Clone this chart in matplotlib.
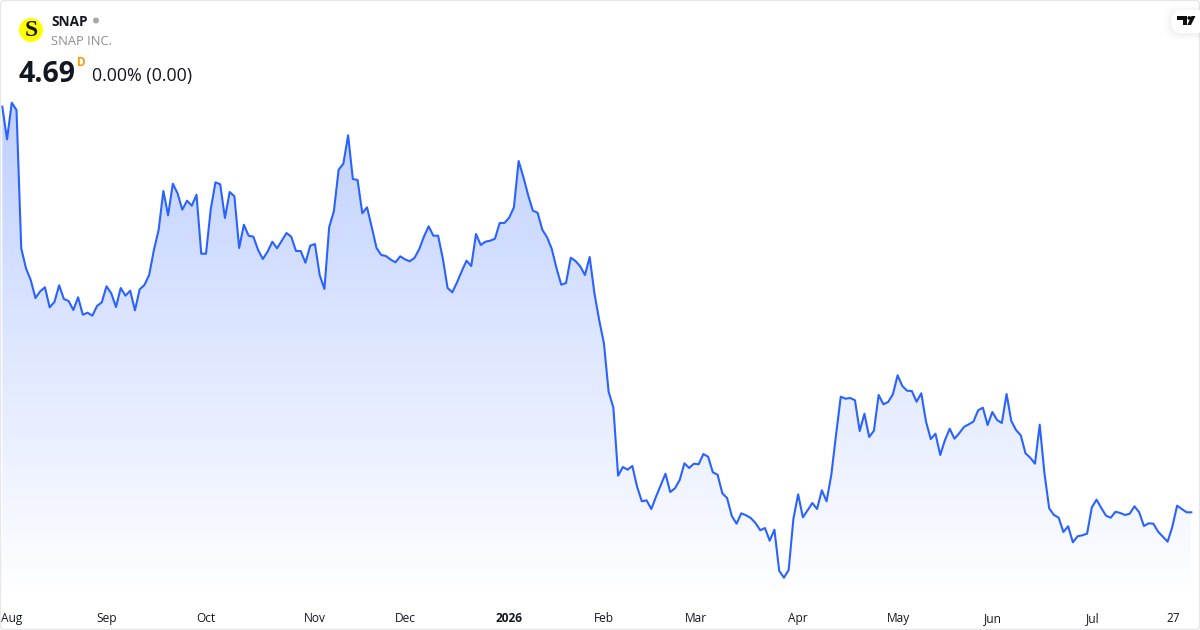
import numpy as np
import matplotlib
matplotlib.use('Agg')
import matplotlib.pyplot as plt
from matplotlib.colors import LinearSegmentedColormap
from matplotlib.patches import Circle, FancyBboxPatch, Polygon

plt.rcParams['font.family'] = ['Open Sans', 'DejaVu Sans']

# Daily closes (no price axis shown, last value 4.69)
aug_oct = [8.746, 8.42, 8.786, 8.713, 7.33, 7.13, 7.013, 6.833, 6.9, 6.94, 6.74, 6.793, 6.96,
           6.823, 6.803, 6.713, 6.84, 6.666, 6.686, 6.656, 6.753, 6.79, 6.95, 6.88, 6.743,
           6.933, 6.856, 6.906, 6.71, 6.92, 6.963, 7.063, 7.313, 7.513, 7.903, 7.66, 7.976,
           7.88, 7.716, 7.806, 7.756, 7.866, 7.276, 7.276, 7.72, 7.99, 7.97, 7.633, 7.893,
           7.85, 7.333, 7.566, 7.456, 7.446, 7.313, 7.223, 7.296, 7.396, 7.33, 7.406, 7.483,
           7.446, 7.303]
nov_jan = [7.303, 7.186, 7.356, 7.373, 7.063, 6.923, 7.54, 7.703, 8.116, 8.176, 8.46, 8.023,
           8.013, 7.68, 7.74, 7.54, 7.333, 7.263, 7.253, 7.216, 7.19, 7.25, 7.22, 7.2, 7.233,
           7.32, 7.446, 7.55, 7.456, 7.456, 7.226, 6.933, 6.89, 6.99, 7.103, 7.206, 7.153,
           7.473, 7.363, 7.396, 7.406, 7.426, 7.583, 7.583, 7.636, 7.74, 8.203, 8.043, 7.863,
           7.706, 7.686, 7.516, 7.44, 7.323, 7.13, 6.966, 6.983, 7.236, 7.203, 7.15, 7.063,
           7.243, 6.88, 6.613, 6.38]
feb_apr = [5.896, 5.736, 5.056, 5.143, 5.116, 5.153, 4.946, 4.8, 4.81, 4.723, 4.846, 4.96,
           5.076, 4.893, 4.93, 5.013, 5.18, 5.133, 5.176, 5.17, 5.273, 5.246, 5.09, 5.066,
           4.88, 4.833, 4.653, 4.576, 4.68, 4.66, 4.633, 4.583, 4.51, 4.533, 4.406, 4.516,
           4.106, 4.036, 4.113, 4.623, 4.87, 4.64, 4.71, 4.783, 4.723, 4.91, 4.8, 5.063,
           5.463, 5.846, 5.826, 5.833, 5.81, 5.503, 5.676, 5.443, 5.506, 5.863, 5.77, 5.793,
           5.87, 6.06]
may_jul = [5.953, 5.906, 5.903, 5.796, 5.88, 5.596, 5.423, 5.476, 5.263, 5.413, 5.526, 5.426,
           5.48, 5.543, 5.57, 5.596, 5.71, 5.736, 5.563, 5.693, 5.613, 5.583, 5.873, 5.603,
           5.513, 5.46, 5.28, 5.236, 5.176, 5.566, 5.08, 4.73, 4.663, 4.636, 4.493, 4.55,
           4.39, 4.45, 4.46, 4.476, 4.74, 4.816, 4.733, 4.656, 4.636, 4.696, 4.683, 4.663,
           4.676, 4.75, 4.69, 4.553, 4.58, 4.576, 4.496, 4.446, 4.396, 4.546, 4.756, 4.723,
           4.69, 4.69]
closes = np.array(aug_oct + nov_jan + feb_apr + may_jul)

tick_labels = ['Aug', 'Sep', 'Oct', 'Nov', 'Dec', '2026', 'Feb', 'Mar', 'Apr', 'May', 'Jun', 'Jul', '27']
tick_days = [2, 22, 43, 66, 85, 107, 127, 146.4, 168, 189.2, 209.2, 230.2, 247.2]

days = np.arange(len(closes))
step = (1191.3 - 2.3) / (len(closes) - 1)

fig = plt.figure(figsize=(12, 6.3), dpi=100, facecolor='white')
ax = fig.add_axes([0, 0, 1, 1])
ax.axis('off')

# area under the line, gradient clipped to the polygon
base = 3.513 + 30 * 0.01
cmap = LinearSegmentedColormap.from_list('area', [(0.161, 0.384, 1.0, 0.30), (0.161, 0.384, 1.0, 0.0)])
img = ax.imshow(np.linspace(0, 1, 256).reshape(-1, 1), cmap=cmap, aspect='auto',
                extent=(days[0], days[-1], base, closes.max()), zorder=1)
clip = Polygon(np.column_stack([np.r_[days[0], days, days[-1]], np.r_[base, closes, base]]),
               transform=ax.transData, fc='none', ec='none')
ax.add_patch(clip)
img.set_clip_path(clip)
ax.set_xlim(-2.3 / step, (1200 - 2.3) / step)
ax.set_ylim(3.513, 9.813)

ax.plot(days, closes, color='#2962ff', lw=1.5, solid_joinstyle='round', zorder=2)

for d, lab in zip(tick_days, tick_labels):
    ax.text(d, 3.513 + 11.5 * 0.01, lab, ha='center', va='center', fontsize=8.6, color='#131722',
            fontweight='bold' if lab == '2026' else 'normal', zorder=3)

# header, logo, frame in pixel coordinates
ov = fig.add_axes([0, 0, 1, 1], facecolor='none')
ov.axis('off')

ov.add_patch(FancyBboxPatch((0.5, 0.5), 1199, 629, boxstyle='round,pad=0,rounding_size=4',
                            fc='none', ec='#e6e7ea', lw=1))
ov.add_patch(Circle((31, 30), 12, fc='#ffff00', ec='none'))
ov.text(31, 30.5, 'S', ha='center', va='center', fontsize=17, fontweight='bold', color='#131722',
        family=['Liberation Serif', 'DejaVu Serif'])
ov.text(51, 21.5, 'SNAP', ha='left', va='center', fontsize=9.8, fontweight='bold', color='#131722')
ov.add_patch(Circle((96, 20.5), 3, fc='#a6a8ae', ec='none'))
ov.text(51, 41.5, 'SNAP INC.', ha='left', va='center', fontsize=9.3, color='#8b8e96')
ov.text(18.5, 74, '4.69', ha='left', va='center', fontsize=20.5, fontweight='bold', color='#131722')
ov.text(77, 62, 'D', ha='left', va='center', fontsize=8.4, fontweight='bold', color='#ff9800')
ov.text(92, 76, '0.00% (0.00)', ha='left', va='center', fontsize=12.9, color='#131722')

# TradingView badge
for off, a in [(6, 0.008), (4.5, 0.010), (3, 0.012), (1.5, 0.014)]:
    ov.add_patch(FancyBboxPatch((1171 - off, 10 - off + 1), 40 + off, 23 + off * 2,
                                boxstyle='round,pad=0,rounding_size=11', fc='black', ec='none',
                                alpha=a, zorder=4))
ov.add_patch(FancyBboxPatch((1171, 10), 40, 23, boxstyle='round,pad=0,rounding_size=11',
                            fc='white', ec='none', zorder=5))
ov.add_patch(Polygon([(1177, 16), (1186.5, 16), (1186.5, 25), (1182.5, 25), (1182.5, 20), (1177, 20)],
                     fc='#0f0f0f', ec='none', zorder=6))
ov.add_patch(Circle((1189.3, 18), 1.9, fc='#0f0f0f', ec='none', zorder=6))
ov.add_patch(Polygon([(1191.5, 16), (1195.5, 16), (1191, 25), (1187.3, 25)],
                     fc='#0f0f0f', ec='none', zorder=6))
ov.set_xlim(0, 1200)
ov.set_ylim(630, 0)

fig.savefig('out.png', dpi=100)
